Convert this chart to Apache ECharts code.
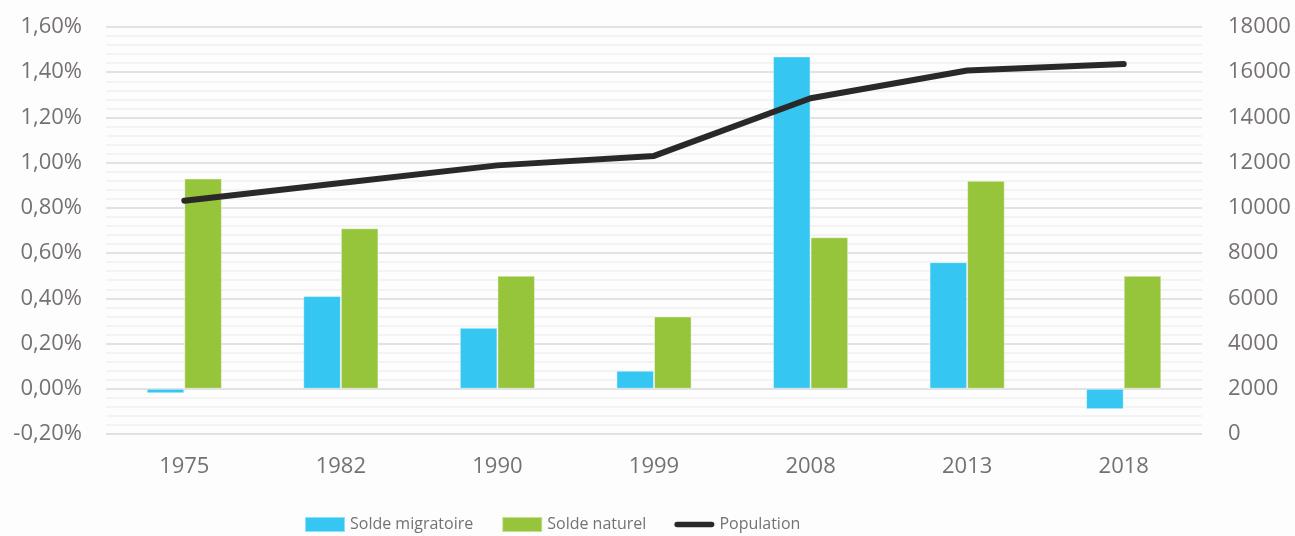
<!DOCTYPE html>
<html>
<head>
<meta charset="utf-8">
<script src="https://cdn.jsdelivr.net/npm/echarts@6/dist/echarts.min.js"></script>
<style>
html,body{margin:0;padding:0;background:#fdfdfe;}
#c{width:1295px;height:536px;}
</style>
</head>
<body>
<div id="c"></div>
<script>
var categories = ['1975', '1982', '1990', '1999', '2008', '2013', '2018'];
var soldeMigratoire = [-0.02, 0.41, 0.27, 0.08, 1.47, 0.56, -0.09];
var soldeNaturel = [0.93, 0.71, 0.50, 0.32, 0.67, 0.92, 0.50];
var population = [10320, 11100, 11880, 12300, 14850, 16075, 16360];

var textColor = '#767171';
var axisFont = 'Open Sans';

var chart = echarts.init(document.getElementById('c'), null, {renderer: 'canvas'});
chart.setOption({
  backgroundColor: '#fdfdfe',
  animation: false,
  grid: {left: 106, right: 93, top: 27, bottom: 102},
  legend: {
    left: 299,
    top: 511,
    itemWidth: 40,
    itemHeight: 15,
    itemGap: 28,
    textStyle: {color: textColor, fontFamily: axisFont, fontSize: 16},
    data: [
      {name: 'Solde migratoire', icon: 'rect'},
      {name: 'Solde naturel', icon: 'rect'},
      {name: 'Population', icon: 'path://M3,0 L41,0 A3,3 0 0 1 41,6 L3,6 A3,3 0 0 1 3,0 Z'}
    ]
  },
  xAxis: {
    type: 'category',
    data: categories,
    axisLine: {show: false},
    axisTick: {show: false},
    axisLabel: {color: textColor, fontFamily: axisFont, fontSize: 22, margin: 22}
  },
  yAxis: [
    {
      type: 'value',
      min: -0.2,
      max: 1.6,
      interval: 0.2,
      axisLine: {show: false},
      axisTick: {show: false},
      axisLabel: {
        color: textColor, fontFamily: axisFont, fontSize: 22, margin: 24,
        formatter: function (v) { return (Math.round(v * 100) / 100).toFixed(2).replace('.', ',') + '%'; }
      },
      splitLine: {show: true, lineStyle: {color: '#d9d9d9', width: 1.5}},
      minorTick: {show: false, splitNumber: 5},
      minorSplitLine: {show: true, lineStyle: {color: '#efeff1', width: 1.5}}
    },
    {
      type: 'value',
      min: 0,
      max: 18000,
      interval: 2000,
      axisLine: {show: false},
      axisTick: {show: false},
      splitLine: {show: false},
      axisLabel: {
        color: textColor, fontFamily: axisFont, fontSize: 22, margin: 26,
        formatter: function (v) { return String(Math.round(v)); }
      }
    }
  ],
  series: [
    {
      name: 'Solde migratoire',
      type: 'bar',
      data: soldeMigratoire,
      barWidth: 37.6,
      barGap: '0%',
      itemStyle: {color: '#35c6f2', borderColor: 'rgba(255,255,255,0.45)', borderWidth: 1}
    },
    {
      name: 'Solde naturel',
      type: 'bar',
      data: soldeNaturel,
      barWidth: 37.6,
      barGap: '0%',
      itemStyle: {color: '#96c43b', borderColor: 'rgba(255,255,255,0.45)', borderWidth: 1}
    },
    {
      name: 'Population',
      type: 'line',
      yAxisIndex: 1,
      data: population,
      symbol: 'none',
      showSymbol: false,
      lineStyle: {color: '#2b282a', width: 6, cap: 'round', join: 'round'},
      itemStyle: {color: '#2b282a'},
      z: 5
    }
  ]
});
</script>
</body>
</html>
